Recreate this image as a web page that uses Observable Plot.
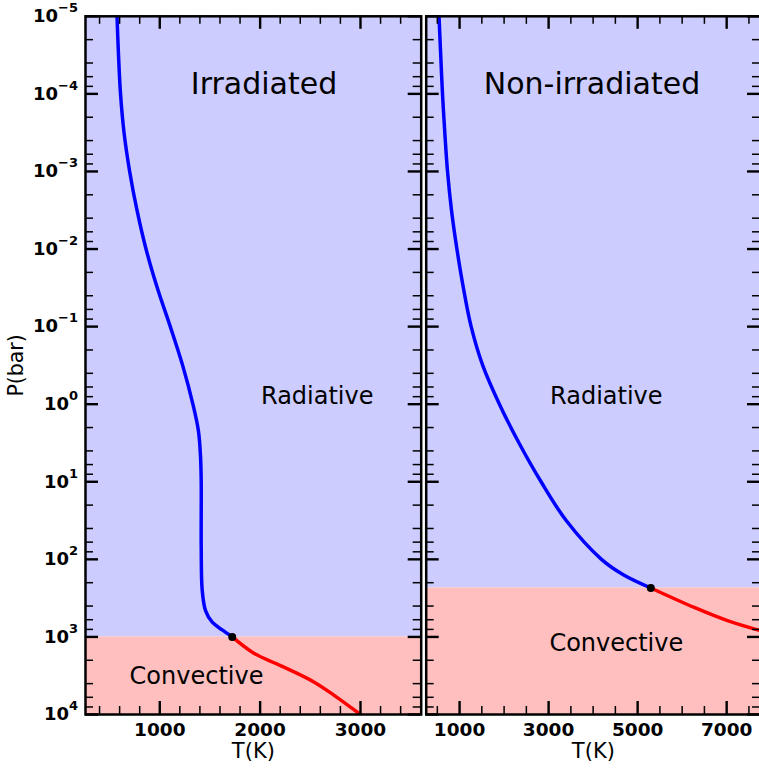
<!DOCTYPE html>
<html><head><meta charset="utf-8">
<script src="https://cdn.jsdelivr.net/npm/d3@7"></script>
<script src="https://cdn.jsdelivr.net/npm/@observablehq/plot@0.6"></script>
<style>
body{margin:0;background:#fff;}
#chart{position:relative;width:759px;height:768px;overflow:hidden;font-family:"DejaVu Sans",sans-serif;}
#chart svg{position:absolute;top:0;overflow:visible;}
</style></head><body><div id="chart"></div>
<script>
// ---- data ----
const decadeExponents = [-5, -4, -3, -2, -1, 0, 1, 2, 3, 4];
const minorMultipliers = [2, 4, 6, 8];

// Irradiated profile (T in K, P in bar)
const leftRadT = [574, 589, 609, 644, 700, 773, 863, 975, 1105, 1228, 1330, 1385, 1406, 1413, 1413, 1423, 1456, 1523, 1622, 1722];
const leftRadP = [1e-5, 3.16e-5, 1e-4, 3.16e-4, 1e-3, 3.16e-3, 1e-2, 3.16e-2, 0.1, 0.316, 1, 2.2, 4.7, 10, 68, 251, 457, 646, 813, 1000];
const leftConvT = [1722, 1937, 2203, 2535, 2734, 3000];
const leftConvP = [1000, 1620, 2340, 3800, 5620, 10000];
const leftBoundaryP = 1000;

// Non-irradiated profile
const rightRadT = [538, 576, 616, 668, 729, 818, 940, 1085, 1260, 1520, 1895, 2335, 2831, 3395, 4188, 4678, 5296];
const rightRadP = [1e-5, 3.16e-5, 1e-4, 3.16e-4, 1e-3, 3.16e-3, 1e-2, 3.16e-2, 0.1, 0.316, 1, 3.16, 10, 31.6, 100, 158, 234];
const rightConvT = [5296, 6271, 7019, 7760];
const rightConvP = [234, 417, 617, 832];
const rightBoundaryP = 234;

const leftXMajor = [1000, 2000, 3000];
const leftXMinor = [400, 600, 800, 1200, 1400, 1600, 1800, 2200, 2400, 2600, 2800, 3200, 3400];
const rightXMajor = [1000, 3000, 5000, 7000];
const rightXMinor = [500, 1500, 2000, 2500, 3500, 4000, 4500, 5500, 6000, 6500, 7500];

const zoneNames = ["Radiative", "Convective"];
const zoneColors = ["#ccccff", "#ffbfbf"];

// ---- helpers ----
const decades = decadeExponents.map(e => 10 ** e);
const pMinor = decades.slice(0, -1).flatMap(d => minorMultipliers.map(m => m * d));
const rows = (T, P) => T.map((t, i) => ({T: t, P: P[i]}));
const supMinus = e => (e < 0 ? "\u2212" + (-e) : String(e));

const H = 768, MT = 15.8, MB = 54;
const innerH = H - MT - MB;

function panel(o) {
  const innerW = o.width - o.marginLeft - o.marginRight;
  const rad = rows(o.radT, o.radP), conv = rows(o.convT, o.convP);
  const zones = [
    {zone: zoneNames[0], top: 1e-5, bottom: o.boundary},
    {zone: zoneNames[1], top: o.boundary, bottom: 1e4}
  ];
  const tk = {stroke: "black"};
  const marks = [
    Plot.rect(zones, {y1: "top", y2: "bottom", fill: "zone"}),
    Plot.line(rad, {x: "T", y: "P", stroke: "#0000ff", strokeWidth: 3.5, curve: "catmull-rom", clip: true}),
    Plot.line(conv, {x: "T", y: "P", stroke: "#ff0000", strokeWidth: 3.5, curve: "catmull-rom", clip: true}),
    Plot.dot([rad[rad.length - 1]], {x: "T", y: "P", r: 4, fill: "black"}),
    // y ticks, left and right, inward
    Plot.ruleY(decades, {...tk, strokeWidth: 2.4, insetRight: innerW - 13}),
    Plot.ruleY(decades, {...tk, strokeWidth: 2.4, insetLeft: innerW - 13}),
    Plot.ruleY(pMinor, {...tk, strokeWidth: 1.5, insetRight: innerW - 8}),
    Plot.ruleY(pMinor, {...tk, strokeWidth: 1.5, insetLeft: innerW - 8}),
    // x ticks, bottom and top, inward
    Plot.ruleX(o.xMajor, {...tk, strokeWidth: 2.4, insetTop: innerH - 13}),
    Plot.ruleX(o.xMajor, {...tk, strokeWidth: 2.4, insetBottom: innerH - 13}),
    Plot.ruleX(o.xMinor, {...tk, strokeWidth: 1.5, insetTop: innerH - 8}),
    Plot.ruleX(o.xMinor, {...tk, strokeWidth: 1.5, insetBottom: innerH - 8}),
    Plot.frame({stroke: "black", strokeWidth: 2.5}),
    Plot.axisX(o.xMajor, {tickSize: 0, tickPadding: 8, fontSize: 18.5, fontWeight: "bold", label: null, tickFormat: d => String(d)}),
    Plot.text(["T(K)"], {frameAnchor: "bottom", lineAnchor: "middle", dy: 37, fontSize: 21, fill: "black"}),
    Plot.text([o.title], {x: o.titleAt[0], y: o.titleAt[1], fontSize: 30, fill: "black"}),
    Plot.text([zoneNames[0]], {x: o.radAt[0], y: o.radAt[1], fontSize: 24, fill: "black"}),
    Plot.text([zoneNames[1]], {x: o.convAt[0], y: o.convAt[1], fontSize: 24, fill: "black"})
  ];
  if (o.showY) {
    marks.push(
      Plot.axisY(decades, {tickSize: 0, tickPadding: 7.5, fontSize: 18, fontWeight: "bold", label: null,
        tickFormat: d => "10^" + supMinus(Math.round(Math.log10(d)))}),
      Plot.text(["P(bar)"], {frameAnchor: "left", textAnchor: "middle", lineAnchor: "middle", dx: -68.8, rotate: -90, fontSize: 20.5, fill: "black"})
    );
  }
  const svg = Plot.plot({
    width: o.width, height: H,
    marginLeft: o.marginLeft, marginRight: o.marginRight, marginTop: MT, marginBottom: MB,
    style: {background: "transparent", overflow: "visible", fontFamily: "DejaVu Sans"},
    x: {domain: o.domain, axis: null},
    y: {type: "log", domain: [1e-5, 1e4], reverse: true, axis: null},
    color: {domain: zoneNames, range: zoneColors},
    marks
  });
  // render exponent as superscript
  svg.querySelectorAll('g[aria-label="y-axis tick label"] text').forEach(t => {
    const [base, exp] = t.textContent.split("^");
    t.textContent = "";
    const a = document.createElementNS("http://www.w3.org/2000/svg", "tspan");
    a.textContent = base;
    const b = document.createElementNS("http://www.w3.org/2000/svg", "tspan");
    b.textContent = exp;
    b.setAttribute("dy", "-10");
    b.setAttribute("font-size", "13");
    t.append(a, b);
  });
  svg.style.left = o.left + "px";
  return svg;
}

const chart = document.getElementById("chart");
chart.append(panel({
  left: 0, width: 422, marginLeft: 85, marginRight: 1.3, domain: [260, 3605],
  radT: leftRadT, radP: leftRadP, convT: leftConvT, convP: leftConvP, boundary: leftBoundaryP,
  xMajor: leftXMajor, xMinor: leftXMinor, showY: true,
  title: "Irradiated", titleAt: [2039, 7.5e-5], radAt: [2569, 0.80], convAt: [1366, 3200]
}));
chart.append(panel({
  left: 424, width: 336, marginLeft: 1.7, marginRight: 0, domain: [250, 7760],
  radT: rightRadT, radP: rightRadP, convT: rightConvT, convP: rightConvP, boundary: rightBoundaryP,
  xMajor: rightXMajor, xMinor: rightXMinor, showY: false,
  title: "Non-irradiated", titleAt: [3975, 7.5e-5], radAt: [4296, 0.80], convAt: [4521, 1225]
}));
</script></body></html>
